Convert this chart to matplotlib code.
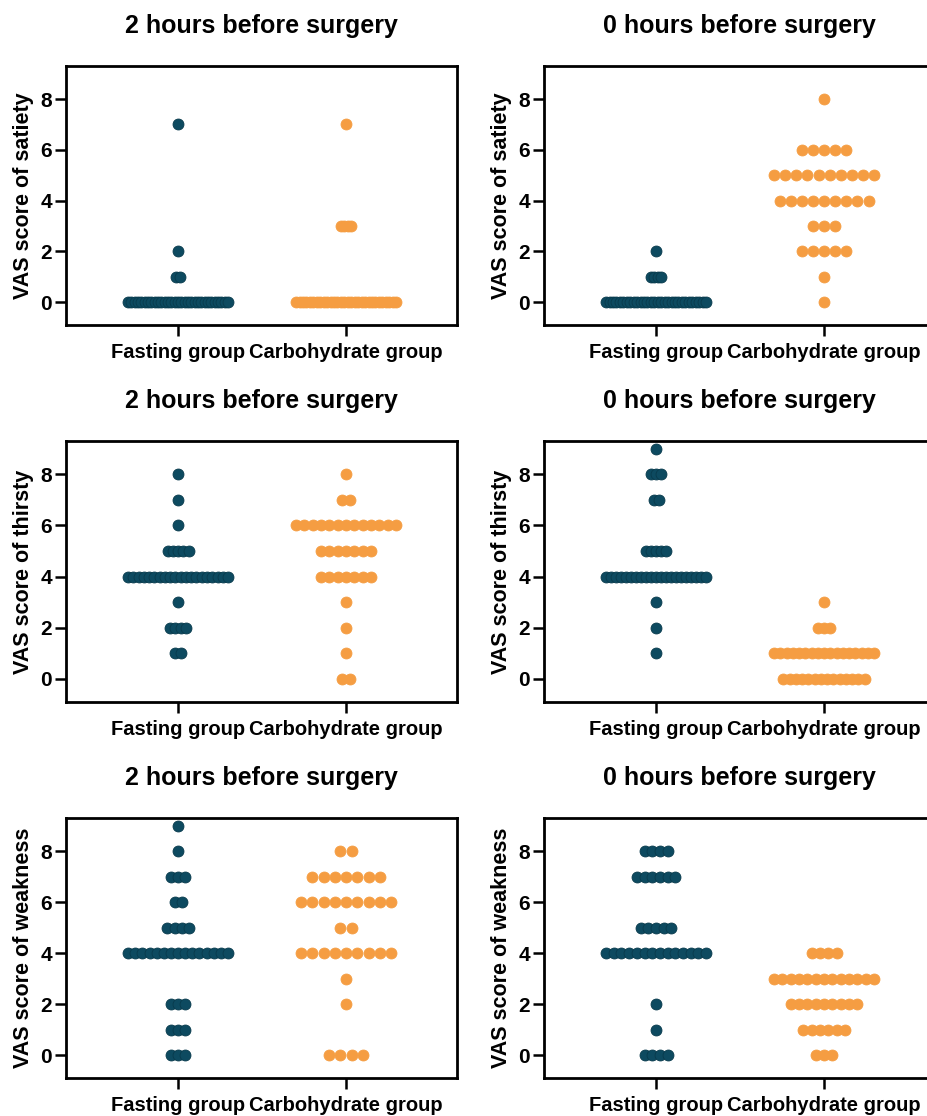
import matplotlib
matplotlib.use("Agg")
import matplotlib.pyplot as plt
import numpy as np

plt.rcParams['font.family'] = ['Liberation Sans', 'DejaVu Sans']
plt.rcParams['font.weight'] = 'bold'

# VAS scores 0..9, number of patients at each score
scores = np.arange(10)
groups = ['Fasting group', 'Carbohydrate group']

satiety_2h_fasting = [31, 2, 1, 0, 0, 0, 0, 1, 0, 0]
satiety_2h_carb = [30, 0, 0, 4, 0, 0, 0, 1, 0, 0]
satiety_0h_fasting = [30, 4, 1, 0, 0, 0, 0, 0, 0, 0]
satiety_0h_carb = [1, 1, 5, 3, 9, 10, 5, 0, 1, 0]

thirsty_2h_fasting = [0, 2, 4, 1, 20, 5, 1, 1, 1, 0]
thirsty_2h_carb = [2, 1, 1, 1, 7, 7, 13, 2, 1, 0]
thirsty_0h_fasting = [0, 1, 1, 1, 21, 5, 0, 2, 3, 1]
thirsty_0h_carb = [14, 17, 3, 1, 0, 0, 0, 0, 0, 0]

weakness_2h_fasting = [3, 3, 3, 0, 15, 4, 2, 3, 1, 1]
weakness_2h_carb = [4, 0, 1, 1, 9, 2, 9, 7, 2, 0]
weakness_0h_fasting = [4, 1, 1, 0, 14, 5, 0, 6, 4, 0]
weakness_0h_carb = [3, 6, 9, 13, 4, 0, 0, 0, 0, 0]

panels = [
    ('2 hours before surgery', 'VAS score of satiety', satiety_2h_fasting, satiety_2h_carb),
    ('0 hours before surgery', 'VAS score of satiety', satiety_0h_fasting, satiety_0h_carb),
    ('2 hours before surgery', 'VAS score of thirsty', thirsty_2h_fasting, thirsty_2h_carb),
    ('0 hours before surgery', 'VAS score of thirsty', thirsty_0h_fasting, thirsty_0h_carb),
    ('2 hours before surgery', 'VAS score of weakness', weakness_2h_fasting, weakness_2h_carb),
    ('0 hours before surgery', 'VAS score of weakness', weakness_0h_fasting, weakness_0h_carb),
]

colors = ['#0d4a60', '#f59d42']
edges = ['#083a4c', '#f59d42']

W, H = 927, 1116
fig = plt.figure(figsize=(W / 100, H / 100), dpi=100)

lefts = [66, 544]
rows = [(66, 325), (441, 702), (818, 1078)]
ax_w = 391


def dot_positions(center, counts):
    # lay each score's dots side by side, squeezed so the widest row fits
    nmax = max(counts)
    step = min(0.067, 0.595 / max(nmax - 1, 1))
    xs, ys = [], []
    for score, k in zip(scores, counts):
        if k == 0:
            continue
        off = (np.arange(k) - (k - 1) / 2) * step
        xs.extend(center + off)
        ys.extend([score] * k)
    return xs, ys


for i, (title, ylabel, fasting, carb) in enumerate(panels):
    top, bottom = rows[i // 2]
    left = lefts[i % 2]
    ax = fig.add_axes([left / W, 1 - bottom / H, ax_w / W, (bottom - top) / H])

    for j, counts in enumerate([fasting, carb]):
        xs, ys = dot_positions(j, counts)
        ax.scatter(xs, ys, s=62, color=colors[j], edgecolors=edges[j],
                   linewidths=0.6, zorder=3, clip_on=False)

    ax.set_xlim(-0.667, 1.66)
    ax.set_ylim(-0.9, 9.3)
    ax.set_xticks([0, 1])
    ax.set_xticklabels(groups, fontsize=14.5, fontweight='bold')
    ax.set_yticks([0, 2, 4, 6, 8])
    ax.tick_params(axis='y', labelsize=15, length=8, width=1.8, pad=2)
    ax.tick_params(axis='x', length=8, width=1.8, pad=5)
    for sp in ax.spines.values():
        sp.set_linewidth(2)
    if i % 2 == 1:
        # right column is cut off at the image edge
        ax.spines['right'].set_visible(False)
    ax.set_ylabel(ylabel, fontsize=15.5, fontweight='bold', labelpad=5)
    ax.set_title(title, fontsize=18, fontweight='bold', pad=24)

fig.savefig('out.png', dpi=100)
